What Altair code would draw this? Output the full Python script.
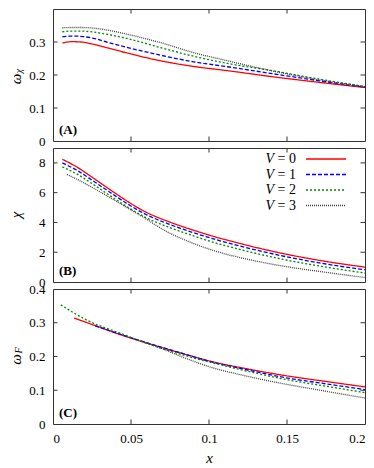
import altair as alt
import pandas as pd

FONT = "Liberation Serif"
FRAME = "#333333"

V_VALUES = ["0", "1", "2", "3"]
COLORS = ["#ff0000", "#0000ff", "#008800", "#404040"]
DASHES = [[1, 0], [4, 2], [2, 2], [1, 1]]

X_TICKS = [0, 0.05, 0.1, 0.15, 0.2]

# ---- Panel A : omega_chi ----
A_X = [0.006, 0.012, 0.018, 0.026, 0.035, 0.048, 0.069, 0.09, 0.112, 0.142, 0.17, 0.2]
A_V0 = [0.297, 0.301, 0.300, 0.293, 0.282, 0.266, 0.243, 0.226, 0.213, 0.194, 0.178, 0.162]
A_V1 = [0.316, 0.318, 0.317, 0.311, 0.299, 0.283, 0.260, 0.240, 0.225, 0.203, 0.183, 0.163]
A_V2 = [0.331, 0.333, 0.333, 0.330, 0.323, 0.310, 0.283, 0.257, 0.235, 0.212, 0.188, 0.165]
A_V3 = [0.343, 0.344, 0.344, 0.342, 0.336, 0.323, 0.298, 0.268, 0.243, 0.211, 0.186, 0.165]
A_TICKS = [0, 0.1, 0.2, 0.3]

# ---- Panel B : chi ----
B_X = [0.006, 0.015, 0.026, 0.037, 0.048, 0.058, 0.075, 0.09, 0.103, 0.125, 0.148, 0.175, 0.2]
B_X3 = [0.009, 0.015, 0.026, 0.037, 0.048, 0.058, 0.073, 0.086, 0.103, 0.125, 0.148, 0.175, 0.2]
B_V0 = [8.24, 7.74, 6.97, 6.17, 5.40, 4.78, 4.02, 3.48, 3.06, 2.45, 1.90, 1.38, 1.00]
B_V1 = [8.00, 7.52, 6.77, 5.99, 5.23, 4.62, 3.86, 3.31, 2.89, 2.28, 1.73, 1.21, 0.82]
B_V2 = [7.73, 7.27, 6.54, 5.77, 5.02, 4.41, 3.65, 3.10, 2.66, 2.05, 1.51, 1.00, 0.60]
B_V3 = [7.22, 6.92, 6.30, 5.64, 4.96, 4.34, 3.38, 2.76, 2.11, 1.52, 1.06, 0.65, 0.30]
B_TICKS = [0, 2, 4, 6, 8]

# ---- Panel C : omega_F ----
C_X0 = [0.0135, 0.028, 0.043, 0.065, 0.086, 0.1, 0.125, 0.148, 0.175, 0.2]
C_V0 = [0.314, 0.290, 0.265, 0.233, 0.205, 0.187, 0.163, 0.144, 0.126, 0.110]
C_X1 = [0.027, 0.043, 0.065, 0.086, 0.1, 0.125, 0.148, 0.175, 0.2]
C_V1 = [0.291, 0.266, 0.234, 0.205, 0.186, 0.160, 0.138, 0.119, 0.102]
C_X2 = [0.005, 0.022, 0.043, 0.065, 0.086, 0.1, 0.125, 0.148, 0.175, 0.2]
C_V2 = [0.353, 0.307, 0.269, 0.231, 0.201, 0.184, 0.156, 0.133, 0.112, 0.093]
C_X3 = [0.056, 0.065, 0.086, 0.1, 0.125, 0.148, 0.175, 0.2]
C_V3 = [0.247, 0.232, 0.193, 0.170, 0.141, 0.119, 0.097, 0.077]
C_TICKS = [0, 0.1, 0.2, 0.3, 0.4]


def long_df(xs_list, ys_list):
    rows = []
    for v, xs, ys in zip(V_VALUES, xs_list, ys_list):
        for x, y in zip(xs, ys):
            rows.append({"x": x, "y": y, "V": v})
    return pd.DataFrame(rows)


W = 312
color = alt.Color("V:N", scale=alt.Scale(domain=V_VALUES, range=COLORS), legend=None)
dash = alt.StrokeDash("V:N", scale=alt.Scale(domain=V_VALUES, range=DASHES), legend=None)


def one(value):
    return pd.DataFrame({"t": [value]})


def make_panel(df, ydom, yticks, h, label, show_x, titles, legend=False):
    xscale = alt.Scale(domain=[0, 0.2], nice=False, zero=False)
    yscale = alt.Scale(domain=ydom, nice=False, zero=False)
    if show_x:
        xaxis = alt.Axis(values=X_TICKS, format="~g", ticks=False, domain=False, grid=False,
                         labelPadding=8, labelFont=FONT, labelFontSize=13, labelColor="black",
                         title="x", titleFont=FONT, titleFontStyle="italic",
                         titleFontWeight="normal", titleFontSize=15, titlePadding=5,
                         titleColor="black")
    else:
        xaxis = None
    yaxis = alt.Axis(values=yticks, format="~g", ticks=False, domain=False, grid=False,
                     labelPadding=8, labelFont=FONT, labelFontSize=13, labelColor="black",
                     title=None)
    X = alt.X("x:Q", scale=xscale, axis=xaxis)
    Y = alt.Y("y:Q", scale=yscale, axis=yaxis)

    lines = alt.Chart(df).mark_line(interpolate="monotone", strokeWidth=1.3, clip=True).encode(
        x=X, y=Y, color=color, strokeDash=dash)

    yt = [v for v in yticks if ydom[0] < v < ydom[1]]
    ytick_df = pd.DataFrame({"x": [0.0] * len(yt) + [0.2] * len(yt), "y": yt + yt})
    xt = X_TICKS[1:-1]
    xtick_df = pd.DataFrame({"x": xt + xt, "y": [ydom[0]] * len(xt) + [ydom[1]] * len(xt)})
    yt_layer = alt.Chart(ytick_df).mark_tick(orient="horizontal", size=9, thickness=1,
                                             color=FRAME, clip=True, opacity=1).encode(x=X, y=Y)
    xt_layer = alt.Chart(xtick_df).mark_tick(orient="vertical", size=9, thickness=1,
                                             color=FRAME, clip=True, opacity=1).encode(x=X, y=Y)

    layers = [lines, yt_layer, xt_layer]

    layers.append(alt.Chart(one(label)).mark_text(
        align="left", baseline="middle", fontWeight="bold", fontSize=13, font=FONT, color="black"
    ).encode(x=alt.value(6), y=alt.value(h - 11), text="t:N"))

    for txt, dx, dy, size in titles:
        layers.append(alt.Chart(one(txt)).mark_text(
            align="center", baseline="middle", angle=270, fontStyle="italic", fontSize=size,
            font=FONT, color="black"
        ).encode(x=alt.value(-37 + dx), y=alt.value(h / 2 + dy), text="t:N"))

    if legend:
        for i, v in enumerate(V_VALUES):
            yy = 11 + 15.5 * i
            ldf = pd.DataFrame({"V": [v], "t": ["= " + v]})
            layers.append(alt.Chart(ldf).mark_rule(strokeWidth=1.3).encode(
                x=alt.value(253), x2=alt.value(293), y=alt.value(yy), color=color, strokeDash=dash))
            layers.append(alt.Chart(ldf).mark_text(
                align="right", baseline="middle", fontSize=14, font=FONT, color="black"
            ).encode(x=alt.value(243), y=alt.value(yy), text="t:N"))
            layers.append(alt.Chart(one("V")).mark_text(
                align="right", baseline="middle", fontSize=14, font=FONT, fontStyle="italic",
                color="black"
            ).encode(x=alt.value(221), y=alt.value(yy), text="t:N"))

    return alt.layer(*layers).properties(width=W, height=h)


dfA = long_df([A_X, A_X, A_X, A_X], [A_V0, A_V1, A_V2, A_V3])
dfB = long_df([B_X, B_X, B_X, B_X3], [B_V0, B_V1, B_V2, B_V3])
dfC = long_df([C_X0, C_X1, C_X2, C_X3], [C_V0, C_V1, C_V2, C_V3])

pA = make_panel(dfA, [0, 0.4], A_TICKS, 132, "(A)", False,
                [("ω", 0, 4, 15), ("χ", 3, -4, 10)])
pB = make_panel(dfB, [0, 9], B_TICKS, 134, "(B)", False,
                [("χ", 0, 0, 15)], legend=True)
pC = make_panel(dfC, [0, 0.4], C_TICKS, 135, "(C)", True,
                [("ω", 0, 3, 15), ("F", 3, -6, 10)])

chart = alt.vconcat(pA, pB, pC, spacing=7, bounds="flush").properties(
    padding={"left": 0, "top": 0, "right": 0, "bottom": 0}
).configure_view(stroke=FRAME, strokeWidth=1).configure_axis(
    labelFont=FONT, labelFontSize=13, labelColor="black", titleFont=FONT, titleColor="black"
)

chart.save("out.html", embed_options={"renderer": "svg", "actions": False})
